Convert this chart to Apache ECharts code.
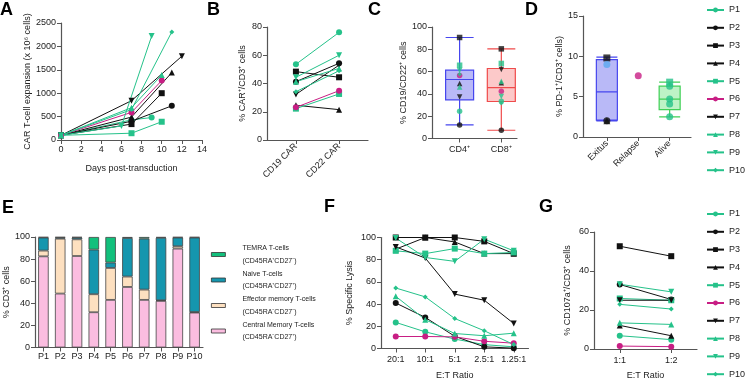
<!DOCTYPE html>
<html>
<head>
<meta charset="utf-8">
<script src="https://cdn.jsdelivr.net/npm/echarts@6/dist/echarts.min.js"></script>
<style>
html, body { margin: 0; padding: 0; background: #fff; }
#main { width: 746px; height: 383px; }
</style>
</head>
<body>
<div id="main"></div>
<script>
var patients = ['P1', 'P2', 'P3', 'P4', 'P5', 'P6', 'P7', 'P8', 'P9', 'P10'];

// A - CAR T-cell expansion (days, x10^6 cells)
var aDays = [[0, 7, 9], [0, 7, 11], [0, 7, 10], [0, 7, 11], [0, 7, 10],
             [0, 7, 10], [0, 7, 12], [0, 7, 10], [0, 6, 9], [0, 7, 11]];
var aCells = [[100, 430, 480], [100, 400, 730], [100, 340, 1000], [100, 490, 1440], [100, 145, 390],
              [100, 590, 1270], [100, 840, 1790], [100, 690, 1390], [100, 300, 2220], [100, 650, 2310]];

// B - % CAR+/CD3+
var bCats = ['CD19 CAR', 'CD22 CAR'];
var bCD19 = [53.6, 41.3, 48.4, 24.6, 22.2, 23.1, 32.3, 41.3, 44.4, 34.2];
var bCD22 = [76.2, 54.3, 44.4, 21.5, 32.6, 34.9, 53, 50.7, 60, 49];

// C - % CD19/CD22+ cells
var cCats = ['CD4\u207A', 'CD8\u207A'];
var cBox = [[12.2, 34.6, 52.9, 61.3, 90.6], [7.4, 33.2, 45.7, 62.8, 80.4]];
var cCD4 = [24.5, 12.2, 90.6, 49.3, 65.7, 56.5, 37.3, 46.3, 61, 57.7];
var cCD8 = [33.5, 7.4, 80.4, 49.9, 67.3, 42.4, 61.9, 51.4, 37.7, 31.7];

// D - % PD-1+/CD3+
var dCats = ['Exitus', 'Relapse', 'Alive'];
var dBox = [[2.0, 2.1, 5.6, 9.6, 9.9], null, [2.5, 3.4, 4.7, 6.3, 6.8]];
var dExitus = [9.8, 9.0, 2.0, 2.0];
var dRelapse = [7.6];
var dAlive = [6.8, 6.3, 4.7, 4.1, 2.5];

// E - T-cell subsets (% CD3+)
var eCentral  = [82.5, 48.8, 82.8, 31.9, 43.1, 54.8, 43.1, 42.2, 89.5, 31.6];
var eEffector = [5.2, 49.7, 15.1, 16.3, 28.9, 9.4, 9.3, 0.5, 2.1, 0.5];
var eNaive    = [11.8, 1.0, 1.6, 40.4, 4.9, 34.9, 46.1, 56.6, 7.9, 67.4];
var eTemra    = [0.5, 0.5, 0.5, 11.4, 23.1, 0.9, 1.5, 0.7, 0.5, 0.5];

// F - % specific lysis
var fCats = ['20:1', '10:1', '5:1', '2.5:1', '1.25:1'];
var fLysis = [
  [23.5, 15, 8.5, 3.5, 1.5],
  [41, 28, 11, 1.5, 0.3],
  [100, 100, 100, 96.5, 85.5],
  [89.5, 100, 96, 85.5, 85.5],
  [88, 85.5, 90, 85.5, 86.5],
  [10.8, 10.8, 10.5, 6.5, 4.8],
  [91.5, 81.5, 49, 43.5, 22.5],
  [47, 26, 13.5, 11.5, 13.8],
  [99.5, 82, 78.5, 98.5, 88],
  [54.5, 46.5, 27, 16, 3.5]
];

// G - % CD107a+/CD3+
var gCats = ['1:1', '1:2'];
var gCD107 = [[6.8, 4.8], [33.1, 25.4], [52.7, 47.6], [12.1, 6.8], [25.9, 25],
              [1.5, 1.2], [25, 25], [13.4, 12.6], [33.2, 29.3], [22.9, 20.5]];

var FONT = '"Liberation Sans", Arial, Helvetica, sans-serif';
var GREEN = '#25c28a', BLACK = '#111111', MAGENTA = '#c81e84';
var pColor = [GREEN, BLACK, BLACK, BLACK, GREEN, MAGENTA, BLACK, GREEN, GREEN, GREEN];
var pSymbol = ['circle', 'circle', 'rect', 'triangle', 'rect', 'circle', 'triangle', 'triangle', 'triangle', 'diamond'];
var pRotate = [0, 0, 0, 0, 0, 0, 180, 0, 180, 0];
var pSize = [6, 6, 6, 6, 6, 6, 6, 6, 6, 5];

var myChart = echarts.init(document.getElementById('main'), null, {renderer: 'canvas'});

function ax(extra) {
    var base = {
        splitLine: {show: false},
        nameLocation: 'middle',
        nameTextStyle: {fontSize: 9, color: '#222', fontFamily: FONT}
    };
    var line = {show: true, onZero: false, lineStyle: {color: '#555', width: 1.2}};
    var tick = {show: true, length: 4, lineStyle: {color: '#555', width: 1}};
    var label = {fontSize: 9, color: '#222', margin: 5, fontFamily: FONT};
    var o = Object.assign(base, extra);
    o.axisLine = Object.assign(line, extra.axisLine || {});
    o.axisTick = Object.assign(tick, extra.axisTick || {});
    o.axisLabel = Object.assign(label, extra.axisLabel || {});
    return o;
}

function pick(names) {
    return function (v) { return names[Math.round(v) - 1] || ''; };
}
function plain(v) { return String(v); }

var grids = [
    {left: 61, top: 23, width: 141, height: 117},
    {left: 267, top: 27, width: 101, height: 113},
    {left: 432, top: 27, width: 85, height: 111.5},
    {left: 583, top: 16, width: 108, height: 121},
    {left: 35, top: 237, width: 168, height: 110.5},
    {left: 381, top: 237.5, width: 147.5, height: 111},
    {left: 594, top: 232, width: 103, height: 117}
].map(function (g) { g.outerBoundsMode = 'none'; g.containLabel = false; return g; });

var xAxes = [
    ax({gridIndex: 0, type: 'value', min: 0, max: 14, interval: 2, name: 'Days post-transduction', nameGap: 24}),
    ax({gridIndex: 1, type: 'value', min: 0.33, max: 2.67,
        axisTick: {customValues: [1, 2]},
        axisLabel: {customValues: [1, 2], rotate: 45, formatter: pick(bCats)}}),
    ax({gridIndex: 2, type: 'value', min: 0.338, max: 2.376,
        axisTick: {customValues: [1, 2]},
        axisLabel: {customValues: [1, 2], margin: 7, formatter: pick(cCats)}}),
    ax({gridIndex: 3, type: 'value', min: 0.24, max: 3.68,
        axisTick: {customValues: [1, 2, 3]},
        axisLabel: {customValues: [1, 2, 3], rotate: 45, formatter: pick(dCats)}}),
    ax({gridIndex: 4, type: 'category', data: patients, axisTick: {alignWithLabel: true},
        axisLabel: {interval: 0}}),
    ax({gridIndex: 5, type: 'category', data: fCats, name: 'E:T Ratio', nameGap: 23,
        axisTick: {alignWithLabel: true}, axisLabel: {margin: 7, interval: 0}}),
    ax({gridIndex: 6, type: 'category', data: gCats, name: 'E:T Ratio', nameGap: 22,
        axisTick: {alignWithLabel: true}, axisLabel: {margin: 7, interval: 0}})
];

var yAxes = [
    ax({gridIndex: 0, type: 'value', min: 0, max: 2500, interval: 500, name: 'CAR T-cell expansion (x 10\u2076 cells)', nameGap: 29,
        axisLabel: {formatter: plain}}),
    ax({gridIndex: 1, type: 'value', min: 0, max: 80, interval: 20, name: '% CAR\u207A/CD3\u207A cells', nameGap: 20}),
    ax({gridIndex: 2, type: 'value', min: 0, max: 100, interval: 20, name: '% CD19/CD22\u207A cells', nameGap: 15}),
    ax({gridIndex: 3, type: 'value', min: 0, max: 15, interval: 5, name: '% PD-1\u207A/CD3\u207A cells)', nameGap: 18}),
    ax({gridIndex: 4, type: 'value', min: 0, max: 100, interval: 20, name: '% CD3\u207A cells', nameGap: 24}),
    ax({gridIndex: 5, type: 'value', min: 0, max: 100, interval: 20, name: '% Specific Lysis', nameGap: 27}),
    ax({gridIndex: 6, type: 'value', min: 0, max: 60, interval: 20, name: '% CD107a\u207A/CD3\u207A cells', nameGap: 22})
];

var series = [];

// boxplots first (drawn under points)
series.push({
    type: 'boxplot', name: 'cbox', xAxisIndex: 2, yAxisIndex: 2, boxWidth: [28, 28], z: 1,
    data: cBox.map(function (b, k) {
        var st = k === 0 ? {color: '#b9b9f7', borderColor: '#4646ee'} : {color: '#fcc9c9', borderColor: '#ef4b4b'};
        st.borderWidth = 1.2;
        return {value: [k + 1].concat(b), itemStyle: st};
    })
});
var dBoxData = [];
dBox.forEach(function (b, k) {
    if (!b) return;
    var st = k === 0 ? {color: '#b9b9f7', borderColor: '#4646ee'} : {color: '#bdf3c6', borderColor: '#3fcf55'};
    st.borderWidth = 1.2;
    dBoxData.push({value: [k + 1].concat(b), itemStyle: st});
});
series.push({type: 'boxplot', name: 'dbox', xAxisIndex: 3, yAxisIndex: 3, boxWidth: [21, 21], z: 1, data: dBoxData});

patients.forEach(function (p, i) {
    var look = {
        name: p, symbol: pSymbol[i], symbolRotate: pRotate[i], symbolSize: pSize[i],
        itemStyle: {color: pColor[i]}, lineStyle: {color: pColor[i], width: 1}, z: 3
    };
    // A
    series.push(Object.assign({type: 'line', xAxisIndex: 0, yAxisIndex: 0,
        data: aDays[i].map(function (d, k) { return [d, aCells[i][k]]; })}, look));
    // B
    series.push(Object.assign({type: 'line', xAxisIndex: 1, yAxisIndex: 1,
        data: [[1, bCD19[i]], [2, bCD22[i]]]}, look));
    // C
    series.push(Object.assign({type: 'scatter', xAxisIndex: 2, yAxisIndex: 2,
        data: [[1, cCD4[i]], [2, cCD8[i]]]}, look, {symbolSize: pSize[i] - 0.5}));
    // F
    series.push(Object.assign({type: 'line', xAxisIndex: 5, yAxisIndex: 5, data: fLysis[i]}, look));
    // G
    series.push(Object.assign({type: 'line', xAxisIndex: 6, yAxisIndex: 6, data: gCD107[i]}, look));
});

// D points
var dExitusName = ['P3', 'Exitus other', 'P4', 'P2'];
var dExitusSym = ['rect', 'circle', 'triangle', 'circle'];
var dExitusCol = [BLACK, '#5aa9ef', BLACK, BLACK];
dExitus.forEach(function (v, k) {
    series.push({type: 'scatter', name: dExitusName[k], xAxisIndex: 3, yAxisIndex: 3, z: 3,
        symbol: dExitusSym[k], symbolSize: 7, itemStyle: {color: dExitusCol[k]}, data: [[1, v]]});
});
series.push({type: 'scatter', name: 'P6', xAxisIndex: 3, yAxisIndex: 3, z: 3, symbol: 'circle', symbolSize: 7,
    itemStyle: {color: MAGENTA}, data: dRelapse.map(function (v) { return [2, v]; })});
var dAliveSym = ['rect', 'circle', 'circle', 'circle', 'circle'];
dAlive.forEach(function (v, k) {
    series.push({type: 'scatter', name: k === 0 ? 'P5' : 'Alive other', xAxisIndex: 3, yAxisIndex: 3, z: 3,
        symbol: dAliveSym[k], symbolSize: 7, itemStyle: {color: GREEN}, data: [[3, v]]});
});

// E stacked bars
var eNames = ['Central Memory T-cells', 'Effector memory T-cells', 'Naive T-cells', 'TEMRA T-cells'];
var eSub = {
    'TEMRA T-cells': '(CD45RA\u207ACD27\u207B)',
    'Naive T-cells': '(CD45RA\u207ACD27\u207A)',
    'Effector memory T-cells': '(CD45RA\u207BCD27\u207B)',
    'Central Memory T-cells': '(CD45RA\u207BCD27\u207A)'
};
var eColors = ['#fbbde0', '#fde0c0', '#1596ae', '#12c07c'];
[eCentral, eEffector, eNaive, eTemra].forEach(function (arr, k) {
    series.push({
        type: 'bar', name: eNames[k], xAxisIndex: 4, yAxisIndex: 4, stack: 'e', barWidth: 10.5,
        itemStyle: {color: eColors[k], borderColor: '#444', borderWidth: 0.8},
        data: arr
    });
});

var legendCommon = {
    orient: 'vertical', left: 706, itemWidth: 17, itemHeight: 6, itemGap: 7.8, padding: 0,
    data: patients, selectedMode: false,
    textStyle: {fontSize: 9, color: '#222', fontFamily: FONT, lineHeight: 10}
};

var letters = [['A', 0, 1], ['B', 207, 1], ['C', 368, 1], ['D', 525, 1], ['E', 2, 199], ['F', 324, 198], ['G', 539, 198]];

var option = {
    animation: false,
    backgroundColor: '#fff',
    textStyle: {fontFamily: FONT},
    title: letters.map(function (l) {
        return {text: l[0], left: l[1], top: l[2], padding: 0,
            textStyle: {fontSize: 18, fontWeight: 'bold', color: '#000', fontFamily: FONT}};
    }),
    legend: [
        Object.assign({top: 5}, legendCommon),
        Object.assign({top: 209}, legendCommon),
        {
            orient: 'vertical', left: 211, top: 242, itemWidth: 14, itemHeight: 4, itemGap: 0.5, padding: 0,
            icon: 'rect', selectedMode: false,
            data: ['TEMRA T-cells', 'Naive T-cells', 'Effector memory T-cells', 'Central Memory T-cells'],
            itemStyle: {borderColor: '#333', borderWidth: 0.8},
            formatter: function (n) { return n + '\n' + eSub[n]; },
            textStyle: {fontSize: 7, color: '#222', fontFamily: FONT, lineHeight: 12.5, padding: [0, 0, 0, 12]}
        }
    ],
    grid: grids,
    xAxis: xAxes,
    yAxis: yAxes,
    series: series
};

myChart.setOption(option);
</script>
</body>
</html>
